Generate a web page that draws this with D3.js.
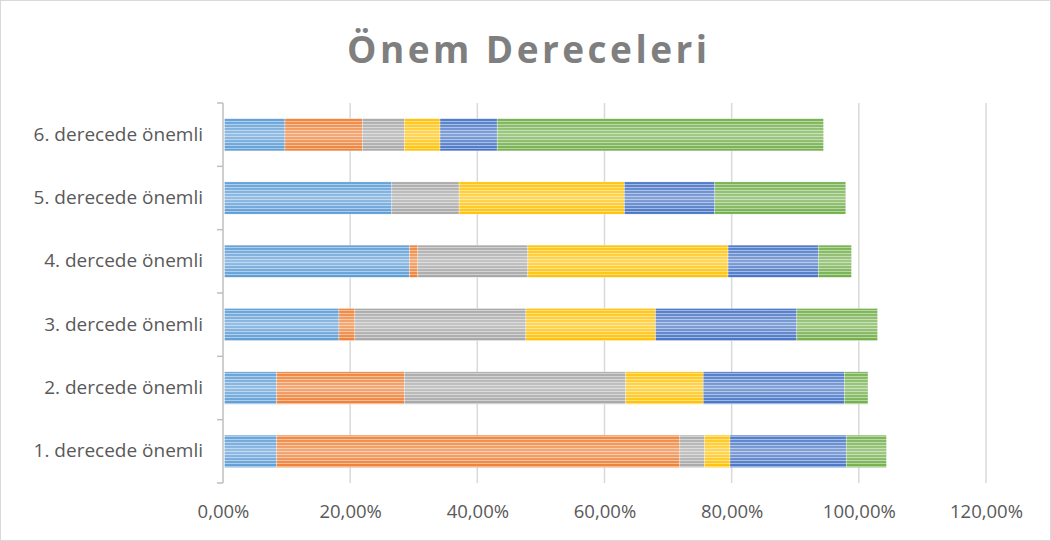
<!DOCTYPE html>
<html lang="tr">
<head>
<meta charset="UTF-8">
<script src="https://cdn.jsdelivr.net/npm/d3@7"></script>
<style>
    * { margin: 0; padding: 0; }
    body { background: #fff; font-family: "Open Sans", sans-serif; }
    svg { display: block; }
</style>
<title>Önem Dereceleri</title>
</head>
<body>
<div id="chart"></div>
<script>
    // categories, bottom to top as they read in the picture
    var categories = ["1. derecede önemli", "2. dercede önemli", "3. dercede önemli",
                      "4. dercede önemli", "5. derecede önemli", "6. derecede önemli"];

    // six stacked series (shares in %), one value per category
    var s1 = [8.2, 8.2, 18.0, 29.1, 26.3, 9.5];
    var s2 = [63.4, 20.1, 2.5, 1.3, 0, 12.2];
    var s3 = [3.9, 34.8, 26.9, 17.3, 10.6, 6.6];
    var s4 = [4.0, 12.2, 20.4, 31.5, 26.0, 5.6];
    var s5 = [18.3, 22.2, 22.2, 14.2, 14.2, 9.0];
    var s6 = [6.3, 3.7, 12.7, 5.2, 20.6, 51.3];

    var seriesNames = ["s1", "s2", "s3", "s4", "s5", "s6"];
    var seriesValues = [s1, s2, s3, s4, s5, s6];
    var colors = ["#5b9bd5", "#ed7d31", "#a5a5a5", "#ffc000", "#4472c4", "#70ad47"];

    var xTicks = [0, 20, 40, 60, 80, 100, 120];

    var w = 1051, h = 541;
    var margin = {left: 223, right: 65, top: 103, bottom: 58};
    var font = "'Open Sans', sans-serif";

    // build rows for d3.stack
    var rows = categories.map(function(c, i) {
        var r = {cat: c};
        seriesNames.forEach(function(k, j) { r[k] = seriesValues[j][i]; });
        return r;
    });
    var stacked = d3.stack().keys(seriesNames)(rows);

    var xScale = d3.scaleLinear()
        .domain([0, 120])
        .range([margin.left, w - margin.right]);

    var yScale = d3.scaleBand()
        .domain(categories.slice().reverse())
        .range([margin.top, h - margin.bottom])
        .paddingInner(0.49)
        .paddingOuter(0.245);

    var svg = d3.select("#chart").append("svg")
        .attr("width", w)
        .attr("height", h);

    // outer frame
    svg.append("rect")
        .attr("x", 0.5).attr("y", 0.5)
        .attr("width", w - 1).attr("height", h - 1)
        .attr("fill", "#fff")
        .attr("stroke", "#d9d9d9");

    // stripe patterns, one per colour
    var defs = svg.append("defs");
    var grad = defs.append("linearGradient")
        .attr("id", "shine")
        .attr("x1", 0).attr("y1", 0).attr("x2", 0).attr("y2", 1);
    grad.append("stop").attr("offset", "0%").attr("stop-color", "#fff").attr("stop-opacity", 0.05);
    grad.append("stop").attr("offset", "50%").attr("stop-color", "#fff").attr("stop-opacity", 0.35);
    grad.append("stop").attr("offset", "100%").attr("stop-color", "#fff").attr("stop-opacity", 0.0);

    colors.forEach(function(c, i) {
        var p = defs.append("pattern")
            .attr("id", "stripe" + i)
            .attr("patternUnits", "userSpaceOnUse")
            .attr("width", 4).attr("height", 3);
        p.append("rect").attr("width", 4).attr("height", 3).attr("fill", c);
        p.append("rect").attr("y", 1).attr("width", 4).attr("height", 1)
            .attr("fill", "#fff").attr("opacity", 0.45);
    });

    // grid lines
    svg.append("g")
        .selectAll("line")
        .data(xTicks.slice(1))
        .enter()
        .append("line")
        .attr("x1", function(d) { return xScale(d); })
        .attr("x2", function(d) { return xScale(d); })
        .attr("y1", margin.top)
        .attr("y2", h - margin.bottom)
        .attr("stroke", "#d9d9d9")
        .attr("stroke-width", 1.5);

    // bars
    var layers = svg.append("g")
        .selectAll("g")
        .data(stacked)
        .enter()
        .append("g");

    layers.selectAll("rect.seg")
        .data(function(d) { return d; })
        .enter()
        .append("rect")
        .attr("class", "seg")
        .attr("x", function(d) { return xScale(d[0]) + 1.5; })
        .attr("y", function(d) { return yScale(d.data.cat); })
        .attr("width", function(d) { return Math.max(0, xScale(d[1]) - xScale(d[0])); })
        .attr("height", yScale.bandwidth())
        .attr("fill", function() { return "url(#stripe" + seriesNames.indexOf(d3.select(this.parentNode).datum().key) + ")"; });

    layers.selectAll("rect.shine")
        .data(function(d) { return d; })
        .enter()
        .append("rect")
        .attr("class", "shine")
        .attr("x", function(d) { return xScale(d[0]) + 1.5; })
        .attr("y", function(d) { return yScale(d.data.cat); })
        .attr("width", function(d) { return Math.max(0, xScale(d[1]) - xScale(d[0])); })
        .attr("height", yScale.bandwidth())
        .attr("fill", "url(#shine)")
        .attr("stroke", "#fff")
        .attr("stroke-opacity", 0.35)
        .attr("stroke-width", 0.8);

    // y axis
    var yAxis = d3.axisLeft(yScale).tickSize(0).tickPadding(20);
    var gy = svg.append("g")
        .attr("transform", "translate(" + margin.left + ",0)")
        .call(yAxis);
    gy.select(".domain").remove();
    gy.selectAll("text")
        .attr("fill", "#595959")
        .attr("font-size", "19px")
        .attr("font-family", font);

    svg.append("line")
        .attr("x1", margin.left).attr("x2", margin.left)
        .attr("y1", margin.top).attr("y2", h - margin.bottom)
        .attr("stroke", "#bfbfbf").attr("stroke-width", 1.5);

    // category boundary ticks
    var bounds = d3.range(categories.length + 1).map(function(i) {
        return margin.top + i * yScale.step();
    });
    svg.append("g")
        .selectAll("line")
        .data(bounds)
        .enter()
        .append("line")
        .attr("x1", margin.left - 6).attr("x2", margin.left)
        .attr("y1", function(d) { return d; })
        .attr("y2", function(d) { return d; })
        .attr("stroke", "#bfbfbf").attr("stroke-width", 1.5);

    // x axis labels
    var xAxis = d3.axisBottom(xScale)
        .tickValues(xTicks)
        .tickSize(0)
        .tickPadding(22)
        .tickFormat(function(d) { return d3.format(".2f")(d).replace(".", ",") + "%"; });
    var gx = svg.append("g")
        .attr("transform", "translate(0," + (h - margin.bottom) + ")")
        .call(xAxis);
    gx.select(".domain").remove();
    gx.selectAll("text")
        .attr("fill", "#595959")
        .attr("font-size", "18.5px")
        .attr("font-family", font);

    // title
    svg.append("text")
        .attr("x", 527)
        .attr("y", 63)
        .attr("text-anchor", "middle")
        .attr("font-size", "37px")
        .attr("font-weight", "bold")
        .attr("fill", "#7f7f7f")
        .attr("font-family", font)
        .attr("textLength", 360)
        .attr("lengthAdjust", "spacing")
        .text("Önem Dereceleri");
</script>
</body>
</html>
